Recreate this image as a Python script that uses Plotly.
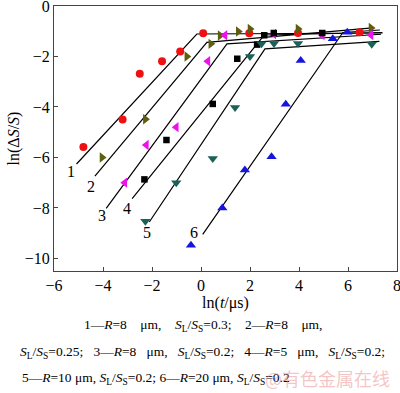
import plotly.graph_objects as go

# ---- data ----
s1_x = [-4.80, -3.20, -2.50, -1.59, -0.85, 0.09, 1.97, 3.96, 6.47]
s1_y = [-5.59, -4.50, -2.68, -2.19, -1.80, -1.08, -1.08, -1.07, -1.04]

s2_x = [-4.04, -2.27, -0.58, 0.40, 0.78, 1.52, 2.00, 3.96, 6.94]
s2_y = [-6.00, -4.49, -2.00, -1.50, -1.17, -1.01, -0.91, -0.91, -0.87]

s3_x = [-3.11, -2.23, -1.01, 0.28, 0.98, 2.97, 4.95, 6.94]
s3_y = [-7.00, -5.51, -4.80, -2.19, -1.16, -1.11, -1.15, -1.15]

s4_x = [-2.31, -1.41, 0.48, 1.48, 2.29, 2.58, 2.97, 4.95]
s4_y = [-6.87, -5.31, -3.88, -2.09, -1.53, -1.16, -1.07, -1.07]

s5_x = [-2.27, -1.01, 0.48, 1.39, 2.00, 2.47, 2.98, 3.96, 6.97]
s5_y = [-8.53, -7.00, -6.04, -4.02, -2.00, -1.50, -1.49, -1.49, -1.52]

s6_x = [-0.41, 0.87, 1.79, 2.88, 3.46, 4.07, 5.38, 5.97]
s6_y = [-9.48, -8.00, -6.50, -5.97, -3.89, -2.16, -1.30, -1.04]

# fitted lines: start, knee, end
fit_x = [
    [-5.08, -0.17, 7.41],
    [-4.33, 0.24, 7.00],
    [-3.87, 1.06, 7.35],
    [-2.81, 2.58, 7.40],
    [-2.11, 2.61, 7.28],
    [0.07, 5.79, 7.30],
]
fit_y = [
    [-6.26, -1.11, -1.07],
    [-6.74, -1.44, -0.87],
    [-8.02, -1.50, -1.12],
    [-7.63, -1.15, -1.05],
    [-8.56, -1.70, -1.40],
    [-9.05, -1.05, -0.95],
]

label_text = ["1", "2", "3", "4", "5", "6"]
label_x = [-5.29, -4.51, -4.03, -3.02, -2.20, -0.28]
label_y = [-6.57, -7.16, -8.29, -8.02, -8.99, -8.99]

x_ticks = [-6, -4, -2, 0, 2, 4, 6, 8]
y_ticks = [-10, -8, -6, -4, -2, 0]

series = [
    (s1_x, s1_y, "circle", "#ee1111", 8),
    (s2_x, s2_y, "triangle-right", "#5e5e10", 9),
    (s3_x, s3_y, "triangle-left", "#ee11ee", 9),
    (s4_x, s4_y, "square", "#000000", 6.5),
    (s5_x, s5_y, "triangle-down", "#1a6158", 9),
    (s6_x, s6_y, "triangle-up", "#1515dd", 9),
]

FONT = "Liberation Serif, Times New Roman, serif"

fig = go.Figure()
for fx, fy in zip(fit_x, fit_y):
    fig.add_trace(go.Scatter(x=fx, y=fy, mode="lines",
                             line=dict(color="black", width=1.2),
                             showlegend=False, hoverinfo="skip"))
for xs, ys, sym, col, sz in series:
    fig.add_trace(go.Scatter(x=xs, y=ys, mode="markers",
                             marker=dict(symbol=sym, color=col, size=sz,
                                         line=dict(width=0)),
                             showlegend=False))

for t, lx, ly in zip(label_text, label_x, label_y):
    fig.add_annotation(x=lx, y=ly, text=t, showarrow=False,
                       font=dict(family=FONT, size=16, color="black"))

nb = "\u00a0"
sp3 = nb * 3
sp4 = nb * 4
SL = "<i>S</i><sub>L</sub>/<i>S</i><sub>S</sub>"
cap1 = f"1—<i>R</i>=8{sp4}μm,{sp4}{SL}=0.3;{sp4}2—<i>R</i>=8{sp4}μm,"
cap2 = f"{SL}=0.25;{sp3}3—<i>R</i>=8{sp3}μm,{sp3}{SL}=0.2;{sp3}4—<i>R</i>=5{sp3}μm,{sp3}{SL}=0.2;"
cap3 = f"5—<i>R</i>=10{nb}μm,{nb}{SL}=0.2;{nb}6—<i>R</i>=20{nb}μm,{nb}{SL}=0.2"

cap_font = dict(family=FONT, size=13.5, color="black")
fig.add_annotation(xref="paper", yref="paper", x=0.082, y=-0.204, text=cap1,
                   showarrow=False, xanchor="left", yanchor="middle", font=cap_font)
fig.add_annotation(xref="paper", yref="paper", x=-0.105, y=-0.306, text=cap2,
                   showarrow=False, xanchor="left", yanchor="middle", font=cap_font)
fig.add_annotation(xref="paper", yref="paper", x=-0.099, y=-0.404, text=cap3,
                   showarrow=False, xanchor="left", yanchor="middle", font=cap_font)
fig.add_annotation(xref="paper", yref="paper", x=0.985, y=-0.404, text="@有色金属在线",
                   showarrow=False, xanchor="right", yanchor="middle",
                   font=dict(family="Noto Sans CJK SC", size=18, color="rgba(235,140,140,0.5)"))

axis_common = dict(showline=True, linecolor="#444444", linewidth=1, mirror=True,
                   ticks="inside", ticklen=4, tickcolor="#444444",
                   showgrid=False, zeroline=False, automargin=False,
                   ticklabeloverflow="allow",
                   tickfont=dict(family=FONT, size=16, color="black"))

fig.update_xaxes(range=[-6, 8], tickvals=x_ticks,
                 title=dict(text="ln(<i>t</i>/μs)", font=dict(family=FONT, size=16, color="black"),
                            standoff=2),
                 **axis_common)
fig.update_yaxes(range=[-10.5, 0], tickvals=y_ticks,
                 title=dict(text="ln(Δ<i>S</i>/<i>S</i>)", font=dict(family=FONT, size=16, color="black"),
                            standoff=1),
                 **axis_common)

fig.update_layout(width=400, height=393,
                  margin=dict(l=54, r=3, t=6, b=122),
                  paper_bgcolor="white", plot_bgcolor="white")

fig.write_html("out.html", config={"displayModeBar": False},
               post_script="document.body.style.margin='0';document.body.style.overflow='hidden';")
